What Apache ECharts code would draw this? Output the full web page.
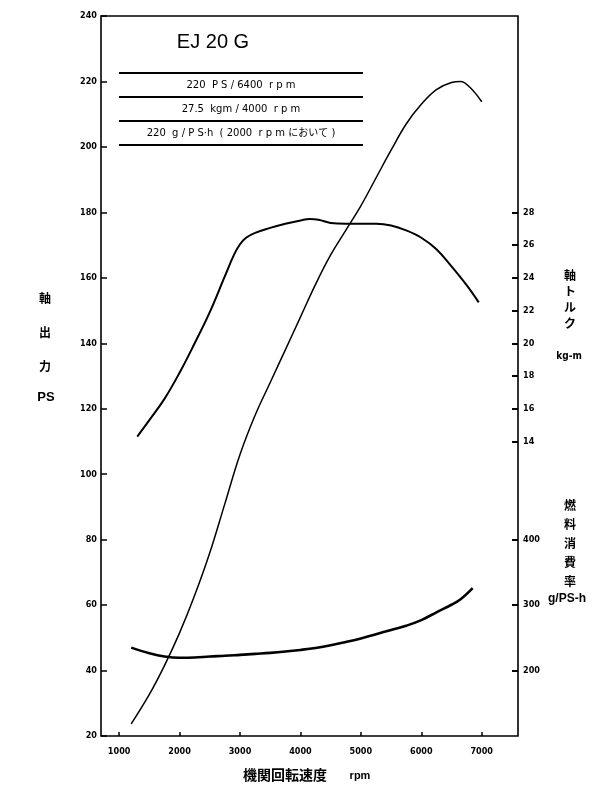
<!DOCTYPE html>
<html>
<head>
<meta charset="utf-8">
<script src="https://cdn.jsdelivr.net/npm/echarts@6/dist/echarts.min.js"></script>
<style>
html, body { margin: 0; background: #fff; }
#main { width: 600px; height: 799px; }
</style>
</head>
<body>
<div id="main"></div>
<script>
// 軸出力 (PS)
var powerRpm = [1200, 1500, 1750, 2000, 2250, 2500, 2750, 3000, 3250, 3500, 3750, 4000, 4250, 4500, 4750, 5000, 5250, 5500, 5750, 6000, 6250, 6500, 6650, 6800, 7000];
var powerPs  = [23.7, 32.7, 41.5, 51.5, 63.0, 76.0, 91.0, 106.0, 118.0, 128.0, 138.0, 148.0, 158.0, 167.0, 174.5, 182.0, 190.5, 199.0, 207.0, 213.0, 217.5, 219.7, 220.0, 218.3, 213.8];

// 軸トルク (kg-m)
var torqueRpm = [1300, 1500, 1750, 2000, 2250, 2500, 2750, 2900, 3000, 3100, 3250, 3500, 3750, 4000, 4150, 4300, 4500, 4750, 5000, 5250, 5500, 5750, 6000, 6250, 6500, 6750, 6950];
var torqueKgm = [14.3, 15.3, 16.6, 18.2, 20.0, 21.9, 24.1, 25.4, 26.05, 26.45, 26.75, 27.05, 27.3, 27.5, 27.6, 27.55, 27.35, 27.3, 27.3, 27.3, 27.2, 26.9, 26.45, 25.75, 24.7, 23.55, 22.5];

// 燃料消費率 (g/PS-h)
var fuelRpm = [1200, 1500, 1750, 2000, 2250, 2500, 2750, 3000, 3250, 3500, 3750, 4000, 4250, 4500, 4750, 5000, 5250, 5500, 5750, 6000, 6250, 6500, 6650, 6850];
var fuelGps = [235, 226.5, 221.5, 219.5, 220, 221.5, 222.5, 224, 225.5, 227, 229, 231.5, 234.5, 238.5, 243.5, 249, 255.5, 262, 268.5, 277, 289, 300.5, 309, 326];

var rpmTicks = [1000, 2000, 3000, 4000, 5000, 6000, 7000];
var torqueTicks = [14, 16, 18, 20, 22, 24, 26, 28];
var fuelTicks = [200, 300, 400];

var specLines = ['220  P S / 6400  r p m', '27.5  kgm / 4000  r p m', '220  g / P S·h  ( 2000  r p m において )'];

function pairs(xs, ys) {
  return xs.map(function (x, i) { return [x, ys[i]]; });
}

var chartDom = document.getElementById('main');
var myChart = echarts.init(chartDom);
var numFont = "'Liberation Sans Narrow', 'DejaVu Sans Condensed', 'Liberation Sans', sans-serif";
var jpFont = "'Noto Sans CJK JP', sans-serif";
var option;

var boxLeft = 119, boxRight = 363;
var boxElems = [];
[73, 97, 121, 145].forEach(function (y) {
  boxElems.push({
    type: 'line',
    shape: { x1: boxLeft, y1: y, x2: boxRight, y2: y },
    style: { stroke: '#000', lineWidth: 1.8 }
  });
});
specLines.forEach(function (t, i) {
  boxElems.push({
    type: 'text',
    x: (boxLeft + boxRight) / 2,
    y: 85 + i * 24,
    style: {
      text: t, fill: '#000', fontSize: 10,
      fontFamily: "'DejaVu Sans', " + jpFont,
      align: 'center', verticalAlign: 'middle'
    }
  });
});

option = {
  animation: false,
  backgroundColor: '#fff',
  grid: {
    left: 101, right: 82, top: 16, bottom: 63,
    show: true, borderColor: '#000', borderWidth: 1.6
  },
  xAxis: {
    type: 'value',
    min: 700,
    max: 7600,
    axisLine: { show: false, onZero: false },
    splitLine: { show: false },
    axisTick: { inside: true, length: 4, customValues: rpmTicks, lineStyle: { color: '#000', width: 1.5 } },
    axisLabel: {
      customValues: rpmTicks, margin: 11, color: '#000', fontSize: 9, fontWeight: 'bold', fontFamily: numFont,
      formatter: function (v) { return String(v); }
    }
  },
  yAxis: [
    {
      type: 'value',
      min: 20,
      max: 240,
      interval: 20,
      position: 'left',
      axisLine: { show: false, onZero: false },
      splitLine: { show: false },
      axisTick: { inside: true, length: 6, lineStyle: { color: '#000', width: 1.5 } },
      axisLabel: { margin: 4, color: '#000', fontSize: 9, fontWeight: 'bold', fontFamily: numFont }
    },
    {
      type: 'value',
      min: -4,
      max: 40,
      position: 'right',
      axisLine: { show: false, onZero: false },
      splitLine: { show: false },
      axisTick: { inside: true, length: 6, customValues: torqueTicks, lineStyle: { color: '#000', width: 2 } },
      axisLabel: { customValues: torqueTicks, margin: 5, color: '#000', fontSize: 9, fontWeight: 'bold', fontFamily: numFont }
    },
    {
      type: 'value',
      min: 100,
      max: 1200,
      position: 'right',
      axisLine: { show: false, onZero: false },
      splitLine: { show: false },
      axisTick: { inside: true, length: 6, customValues: fuelTicks, lineStyle: { color: '#000', width: 2 } },
      axisLabel: { customValues: fuelTicks, margin: 5, color: '#000', fontSize: 9, fontWeight: 'bold', fontFamily: numFont }
    }
  ],
  series: [
    {
      name: '軸出力',
      type: 'line',
      yAxisIndex: 0,
      data: pairs(powerRpm, powerPs),
      smooth: 0.4,
      showSymbol: false,
      lineStyle: { color: '#000', width: 1.5 }
    },
    {
      name: '軸トルク',
      type: 'line',
      yAxisIndex: 1,
      data: pairs(torqueRpm, torqueKgm),
      smooth: 0.4,
      showSymbol: false,
      lineStyle: { color: '#000', width: 2 }
    },
    {
      name: '燃料消費率',
      type: 'line',
      yAxisIndex: 2,
      data: pairs(fuelRpm, fuelGps),
      smooth: 0.4,
      showSymbol: false,
      lineStyle: { color: '#000', width: 2.6 }
    }
  ],
  graphic: {
    elements: [
      {
        type: 'text', x: 213, y: 42,
        style: { text: 'EJ 20 G', fill: '#000', fontSize: 20, fontFamily: "'Liberation Sans', sans-serif", align: 'center', verticalAlign: 'middle' }
      },
      {
        type: 'text', x: 45, y: 281,
        style: { text: '軸\n出\n力', fill: '#000', fontSize: 12, fontWeight: 'bold', fontFamily: jpFont, lineHeight: 34, align: 'center' }
      },
      {
        type: 'text', x: 46, y: 397,
        style: { text: 'PS', fill: '#000', fontSize: 13, fontWeight: 'bold', fontFamily: "'Liberation Sans', sans-serif", align: 'center', verticalAlign: 'middle' }
      },
      {
        type: 'text', x: 570, y: 267,
        style: { text: '軸\nト\nル\nク', fill: '#000', fontSize: 12, fontWeight: 'bold', fontFamily: jpFont, lineHeight: 16, align: 'center' }
      },
      {
        type: 'text', x: 569, y: 356,
        style: { text: 'kg-m', fill: '#000', fontSize: 10, fontWeight: 'bold', fontFamily: numFont, align: 'center', verticalAlign: 'middle' }
      },
      {
        type: 'text', x: 570, y: 496,
        style: { text: '燃\n料\n消\n費\n率', fill: '#000', fontSize: 12, fontWeight: 'bold', fontFamily: jpFont, lineHeight: 19, align: 'center' }
      },
      {
        type: 'text', x: 567, y: 599,
        style: { text: 'g/PS-h', fill: '#000', fontSize: 12, fontWeight: 'bold', fontFamily: "'Liberation Sans', sans-serif", align: 'center', verticalAlign: 'middle' }
      },
      {
        type: 'text', x: 285, y: 775,
        style: { text: '機関回転速度', fill: '#000', fontSize: 14, fontWeight: 'bold', fontFamily: jpFont, align: 'center', verticalAlign: 'middle' }
      },
      {
        type: 'text', x: 360, y: 776,
        style: { text: 'rpm', fill: '#000', fontSize: 11, fontWeight: 'bold', fontFamily: "'Liberation Sans', sans-serif", align: 'center', verticalAlign: 'middle' }
      }
    ].concat(boxElems)
  }
};

option && myChart.setOption(option);
</script>
</body>
</html>
